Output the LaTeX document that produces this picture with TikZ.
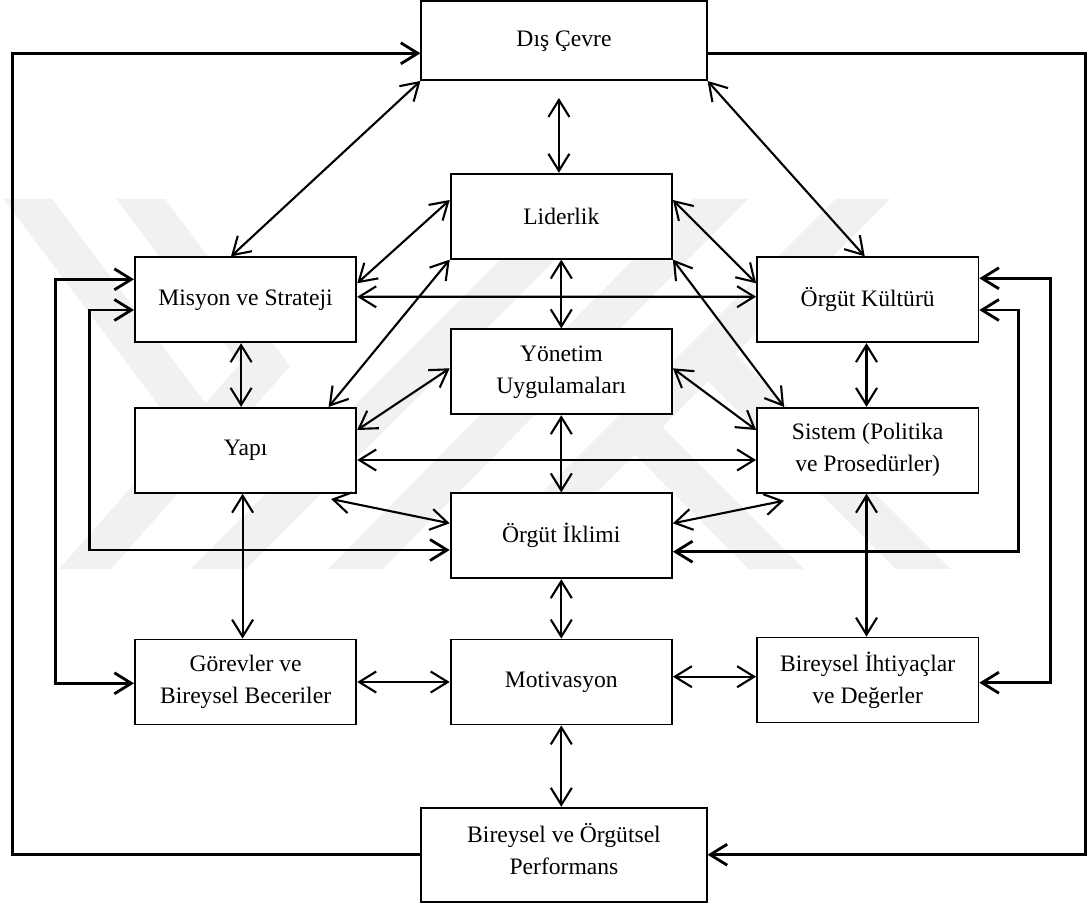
\documentclass[tikz,border=0pt]{standalone}
\usepackage{fontspec}
\setmainfont{Liberation Serif}
\usetikzlibrary{arrows.meta,calc}
\definecolor{wm}{gray}{0.945}
\begin{document}
\begin{tikzpicture}[x=1pt,y=-1pt,
  box/.style={draw=black,line width=1.8pt,fill=white,inner sep=0pt,align=center,
    minimum width=221.4pt,minimum height=85pt,font=\fontsize{23.6}{32}\selectfont},
  wide/.style={minimum width=285.3pt},
  link/.style={line width=2.1pt,>={Straight Barb[length=17pt,width=21pt]}},
  both/.style={link,<->},
  loopln/.style={line width=2.8pt,>={Straight Barb[length=17pt,width=21pt]}},
  band/.style={wm,line width=39pt,line cap=butt,line join=miter}]
\useasboundingbox (0,0) rectangle (1090,907);

% faint background emblem
\begin{scope}
  \clip (0,199) rectangle (1090,568);
  \draw[band] (104,150) -- (265,365) -- (40,620);
  \draw[band] (-9,150) -- (206,436);
  \draw[band] (769,150) -- (305,620);
  \draw[band] (912,150) -- (442,620);
  \draw[band] (638,150) -- (169,618);
  \draw[band] (635,427) -- (827,620);
  \draw[band] (708,354) -- (974,620);
\end{scope}

% loop guide coordinates
\coordinate (L0) at (12.2,450);
\coordinate (L2) at (55.6,450);
\coordinate (L3) at (89.7,450);
\coordinate (R3) at (1018.4,450);
\coordinate (R2) at (1050.7,450);
\coordinate (R0) at (1085.5,450);

% boxes
\node[box,wide,minimum height=78.7pt] (dis) at (564,40.7) {Dış Çevre};
\node[box] (lid) at (561.3,216.2) {Liderlik};
\node[box] (mis) at (245.6,299.8) {Misyon ve Strateji};
\node[box] (ok) at (867.7,299.7) {Örgüt Kültürü};
\node[box] (yon) at (561.3,371.8) {Yönetim\\Uygulamaları};
\node[box] (yap) at (245.6,450.3) {Yapı};
\node[box] (sis) at (867.7,450.3) {Sistem (Politika\\ve Prosedürler)};
\node[box] (ikl) at (561.3,535.8) {Örgüt İklimi};
\node[box] (gor) at (245.6,682) {Görevler ve\\Bireysel Beceriler};
\node[box] (mot) at (561.3,682) {Motivasyon};
\node[box] (bi) at (867.7,680) {Bireysel İhtiyaçlar\\ve Değerler};
\node[box,wide,minimum height=94pt] (perf) at (564,854.7) {};
\node[font=\fontsize{23.6}{32}\selectfont,align=center,inner sep=0pt] (perftext) at (564,849) {Bireysel ve Örgütsel\\Performans};

% two-way links
\draw[both] (dis.south west) -- ([xshift=-14.6pt]mis.north);
\draw[both] (dis.south east) -- ([xshift=-3pt]ok.north);
\draw[both] ([xshift=-2.4pt]lid.north) -- ($(lid.north |- dis.south)+(-2.4,17)$);
\draw[both] ([yshift=16.2pt]lid.west) -- ([yshift=16.5pt]mis.east);
\draw[both] ([yshift=3pt]mis.east) -- ([yshift=3pt]ok.west);
\draw[both] (lid.south west) -- ([xshift=83pt]yap.north);
\draw[both] (lid.south) -- (yon.north);
\draw[both] ([yshift=16.2pt]lid.east) -- ([yshift=16.4pt]ok.west);
\draw[both] (lid.south east) -- ([xshift=28pt]sis.north west);
\draw[both] ([xshift=-1.2pt]ok.south) -- ([xshift=-1.2pt]sis.north);
\draw[both] ([xshift=-4.5pt]mis.south) -- ([xshift=-4.5pt]yap.north);
\draw[both] ([yshift=3.5pt]yon.west) -- ([yshift=20.3pt]yap.east);
\draw[both] ([yshift=3.5pt]yon.east) -- ([yshift=20.3pt]sis.west);
\draw[both] ([yshift=-9.7pt]yap.east) -- ([yshift=-9.7pt]sis.west);
\draw[both] (yon.south) -- (ikl.north);
\draw[both] ([xshift=-26.1pt,yshift=-5.3pt]yap.south east) -- ([yshift=12.5pt]ikl.west);
\draw[both] ([xshift=27.8pt,yshift=-7pt]sis.south west) -- ([yshift=12.5pt]ikl.east);
\draw[both] ([xshift=-3pt]yap.south) -- ([xshift=-3pt]gor.north);
\draw[both] ([xshift=-1.2pt]sis.south) -- ([xshift=-1.2pt]bi.north);
\draw[both] (ikl.south) -- (mot.north);
\draw[both] (gor.east) -- (mot.west);
\draw[both] ([yshift=5.3pt]mot.east) -- ([yshift=3.3pt]bi.west);
\draw[both] (mot.south) -- (mot.south |- perf.north);

% feedback loops
\draw[loopln,->] (perf.west) -| (L0) |- ([yshift=-12.6pt]dis.west);
\draw[loopln,->] ([yshift=-12.6pt]dis.east) -| (R0) |- (perf.east);
\draw[loopln,<->] ([yshift=20.5pt]mis.west) -| (L2) |- ([yshift=-1.3pt]gor.west);
\draw[loopln,<->] ([yshift=-10.2pt]mis.west) -| (L3) |- ([yshift=-14.2pt]ikl.west);
\draw[loopln,<->] ([yshift=-10.3pt]ok.east) -| (R3) |- ([yshift=-15.9pt]ikl.east);
\draw[loopln,<->] ([yshift=21.4pt]ok.east) -| (R2) |- ([yshift=-2.7pt]bi.east);
\end{tikzpicture}
\end{document}
